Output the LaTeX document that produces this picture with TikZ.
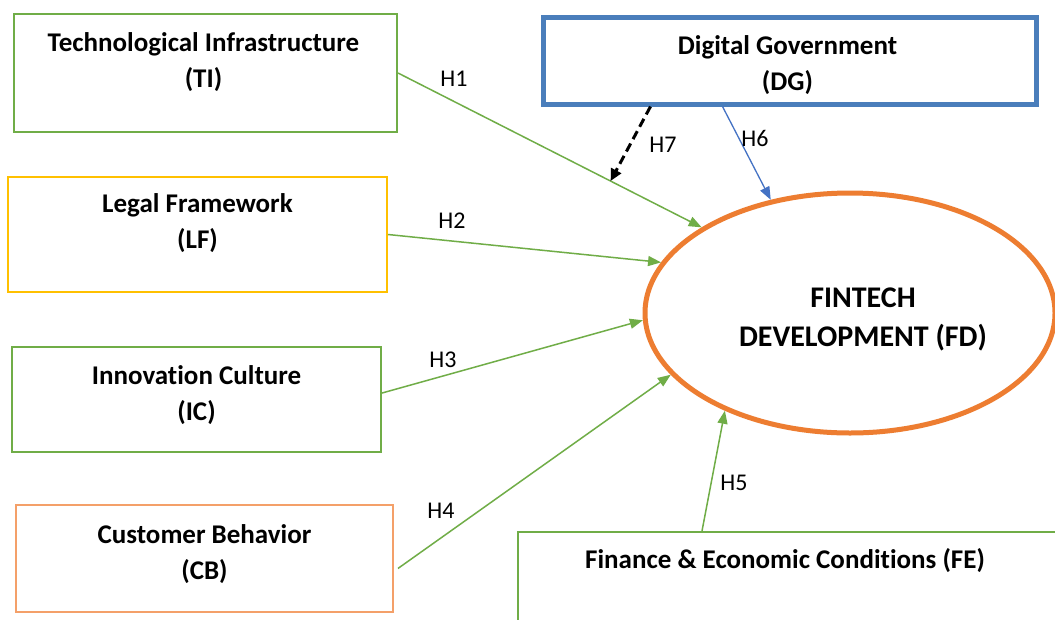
\documentclass[tikz,border=0pt]{standalone}
\usepackage{fontspec}
\setmainfont{Carlito}[Ligatures=NoCommon]
\usetikzlibrary{arrows.meta,calc,shapes.geometric}
\definecolor{cgreen}{HTML}{70AD47}
\definecolor{cgold}{HTML}{FFC000}
\definecolor{corange}{HTML}{ED7D31}
\definecolor{clorange}{HTML}{F4A069}
\definecolor{cblue}{HTML}{4A7EBB}
\definecolor{carrowblue}{HTML}{4472C4}
\begin{document}
\begin{tikzpicture}[x=1pt,y=-1pt,
  box/.style={draw, rectangle, inner sep=0pt, line width=2pt},
  boxtxt/.style={align=center, font=\fontsize{27}{36}\selectfont\bfseries, inner sep=0pt},
  hyp/.style={font=\fontsize{24}{28}\selectfont, inner sep=0pt},
  garrow/.style={draw=cgreen, line width=1.5pt, -{Triangle[length=13pt,width=10pt]}},
  barrow/.style={draw=carrowblue, line width=1.3pt, -{Triangle[length=13pt,width=10pt]}},
  darrow/.style={draw=black, line width=3pt, dash pattern=on 9pt off 5pt, -{Triangle[length=12pt,width=11pt]}}]
\useasboundingbox (0,0) rectangle (1055,619);
\fill[white] (0,0) rectangle (1055,619);

% boxes
\node[box, draw=cgreen, minimum width=383pt, minimum height=118pt] (TI) at (205.5,73) {};
\node[box, draw=cgold, minimum width=379pt, minimum height=115pt] (LF) at (197.5,234.5) {};
\node[box, draw=cgreen, minimum width=369pt, minimum height=105pt] (IC) at (196.5,399.5) {};
\node[box, draw=clorange, minimum width=377pt, minimum height=107pt] (CB) at (204.5,558.5) {};
\node[box, draw=cblue, line width=5pt, minimum width=493pt, minimum height=87pt] (DG) at (789.5,60.5) {};
\node[box, draw=cgreen, minimum width=542pt, minimum height=128pt] (FE) at (789,596) {};
\node[ellipse, draw=corange, line width=5pt, minimum width=410pt, minimum height=240pt, inner sep=0pt] (FD) at (850,313) {};

% texts
\node[boxtxt] (TIt) at ($(TI.north)+(-2,49)$) {Technological Infrastructure\\(TI)};
\node[boxtxt] (LFt) at ($(LF.north)+(0,47)$) {Legal Framework\\(LF)};
\node[boxtxt] (ICt) at ($(IC.north)+(0,49)$) {Innovation Culture\\(IC)};
\node[boxtxt] (CBt) at ($(CB.north)+(0,50)$) {Customer Behavior\\(CB)};
\node[boxtxt] (DGt) at ($(DG.north)+(-2,51)$) {Digital Government\\(DG)};
\node[boxtxt] (FEt) at (785,561) {Finance \& Economic Conditions (FE)};
\node[boxtxt, font=\fontsize{30}{39}\selectfont\bfseries] (FDt) at (863,319) {FINTECH\\DEVELOPMENT (FD)};

% connectors
\draw[garrow] (TI.east) -- coordinate[pos=0.70] (mid) (FD.150.3);
\draw[garrow] (LF.east) -- (FD.165.6);
\draw[garrow] (IC.2.6) -- (FD.182.5);
\draw[garrow] ($(CB.-3.5)+(4,0)$) -- (FD.199.4);
\draw[garrow] ($(FE.north west)+(185,0)$) -- (FD.218);
\draw[barrow] ($(DG.south)+(-67,0)$) -- (FD.125.1);
\draw[darrow] ($(DG.south)+(-139,0)$) -- (mid);

% hypothesis labels
\node[hyp] (h1) at (454,79) {H1};
\node[hyp] (h2) at (452,221) {H2};
\node[hyp] (h3) at (443,360) {H3};
\node[hyp] (h4) at (441,511) {H4};
\node[hyp] (h5) at (734,483) {H5};
\node[hyp] (h6) at (755,138) {H6};
\node[hyp] (h7) at (663,145) {H7};
\end{tikzpicture}
\end{document}
